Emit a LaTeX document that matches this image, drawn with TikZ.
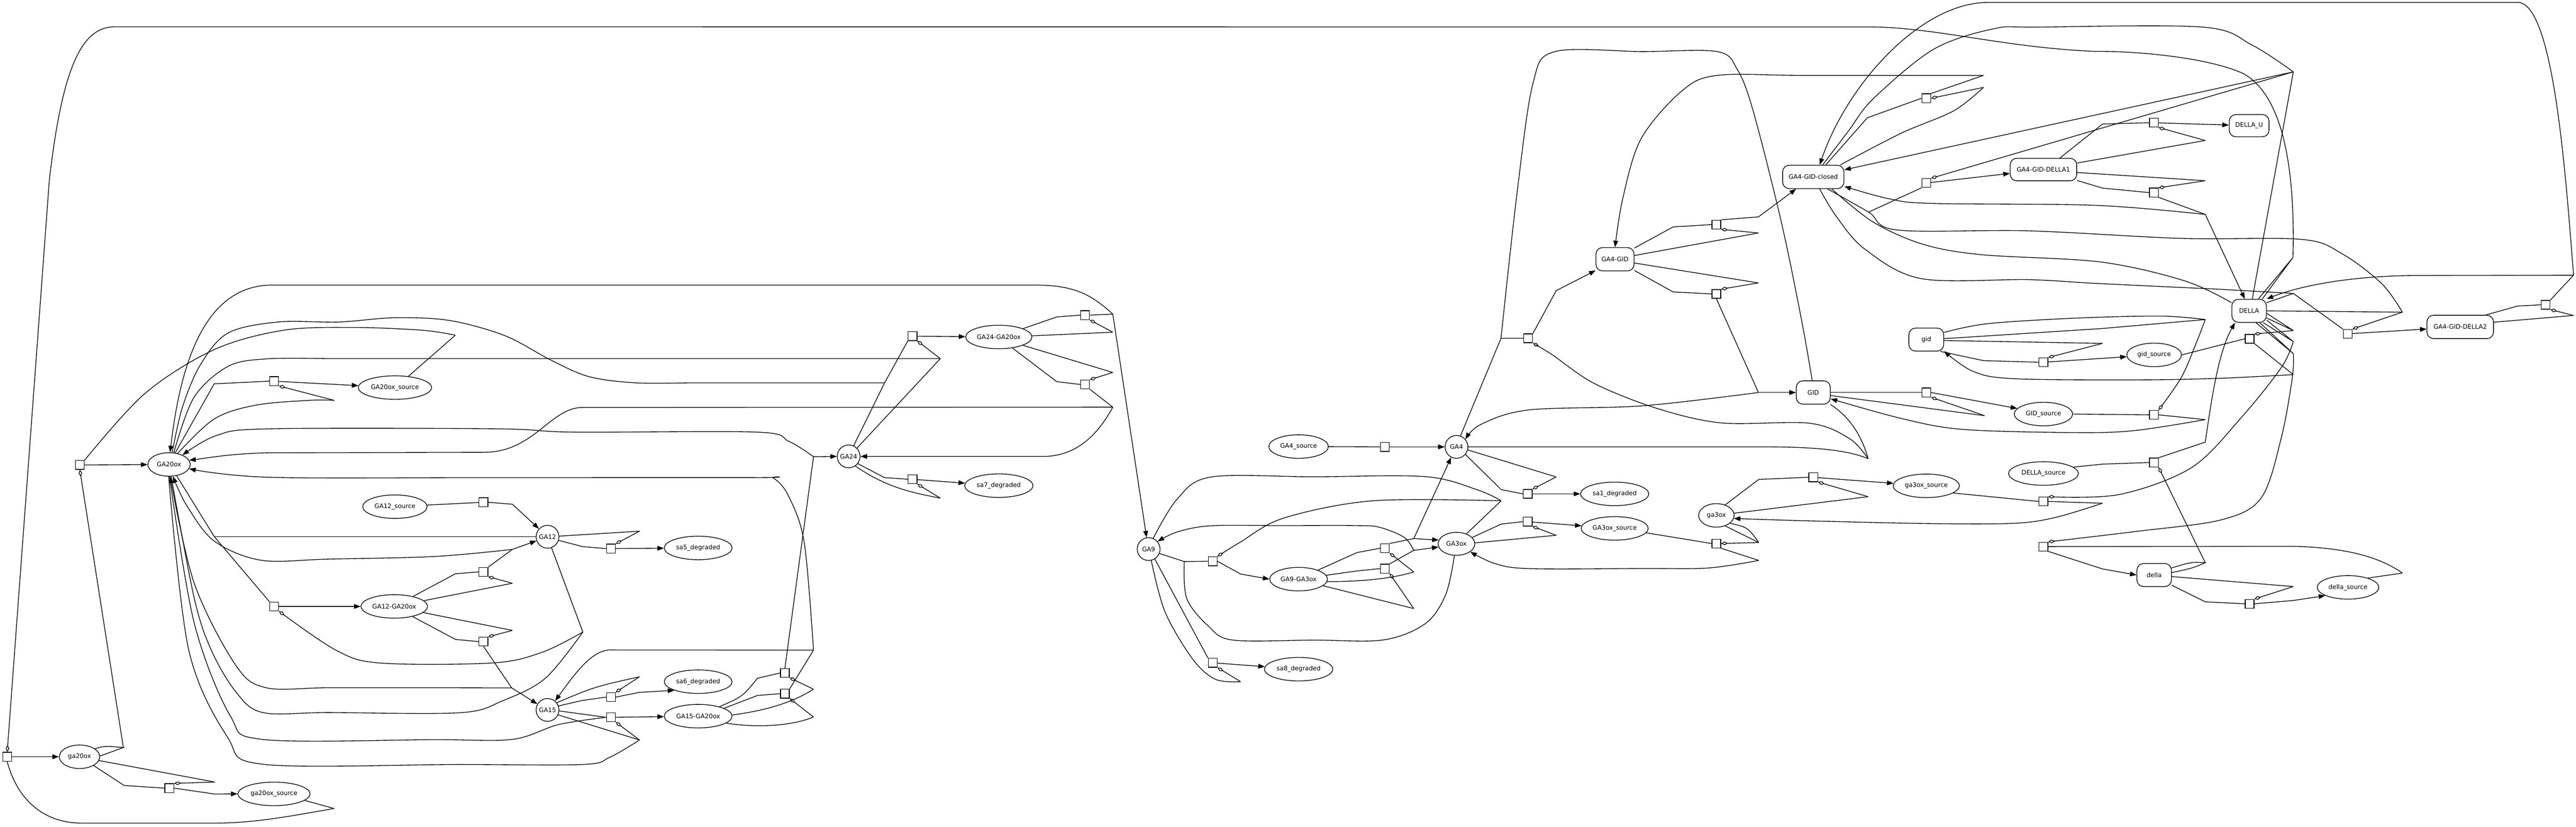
\documentclass[tikz,border=0pt]{standalone}
\usepackage{fontspec}
\setmainfont{DejaVu Sans}
\usetikzlibrary{shapes.geometric,arrows.meta,backgrounds}

\begin{document}
\begin{tikzpicture}[
    x=1mm, y=-1mm,
    font=\fontsize{10.8}{13}\selectfont,
    spe/.style={draw, ellipse, fill=white, line width=1.2pt, minimum height=14.3mm, inner sep=0pt},
    spc/.style={draw, circle, fill=white, line width=1.2pt, minimum size=13.9mm, inner sep=0pt},
    cpx/.style={draw, fill=white, rounded corners=4mm, line width=1.2pt, minimum height=14.2mm, inner sep=0pt},
    rxn/.style={draw, fill=white, line width=1.2pt, minimum size=5.4mm, inner sep=0pt},
    ln/.style={line width=1.2pt},
    ar/.style={ln, -{Triangle[length=4mm,width=2.9mm]}},
    dm/.style={ln, -{Diamond[open,length=4.2mm,width=2.2mm]}},
    sm/.style={smooth, tension=0.55}
    ]
    \useasboundingbox (0,0) rectangle (1568.1,503.1);

    % species
    \node[spe,minimum width=24.6mm] (ga20ox) at (48.4,460.6) {ga20ox};
    \node[spe,minimum width=25.8mm] (GA20ox) at (102.9,282.7) {GA20ox};
    \node[spe,minimum width=43.9mm] (ga20oxsrc) at (166.8,483.2) {ga20ox\_source};
    \node[spe,minimum width=44.6mm] (GA20oxsrc) at (240.4,235.9) {GA20ox\_source};
    \node[spe,minimum width=39.2mm] (GA12src) at (240.4,308.4) {GA12\_source};
    \node[spe,minimum width=40.5mm] (GA12GA20ox) at (240.0,369.1) {GA12-GA20ox};
    \node[spc] (GA12) at (333.3,326.7) {GA12};
    \node[spc] (GA15) at (333.3,432.1) {GA15};
    \node[spe,minimum width=41.3mm] (sa5) at (425.0,333.5) {sa5\_degraded};
    \node[spe,minimum width=41.3mm] (sa6) at (425.0,414.9) {sa6\_degraded};
    \node[spe,minimum width=41.3mm] (GA15GA20ox) at (425.0,435.9) {GA15-GA20ox};
    \node[spc] (GA24) at (516.6,277.8) {GA24};
    \node[spe,minimum width=40.3mm] (GA24GA20ox) at (608.0,205.1) {GA24-GA20ox};
    \node[spe,minimum width=41.6mm] (sa7) at (608.0,295.6) {sa7\_degraded};
    \node[spc] (GA9) at (699.2,334.2) {GA9};
    \node[spe,minimum width=36.2mm] (GA4src) at (790.5,271.8) {GA4\_source};
    \node[spe,minimum width=35.1mm] (GA9GA3ox) at (790.5,352.5) {GA9-GA3ox};
    \node[spe,minimum width=41.6mm] (sa8) at (790.5,407.3) {sa8\_degraded};
    \node[spc] (GA4) at (886.6,272.0) {GA4};
    \node[spe,minimum width=22.3mm,minimum height=14mm] (GA3ox) at (886.6,331.0) {GA3ox};
    \node[spe,minimum width=41.5mm] (sa1) at (982.9,300.6) {sa1\_degraded};
    \node[spe,minimum width=40.8mm] (GA3oxsrc) at (982.9,321.6) {GA3ox\_source};
    \node[cpx,minimum width=23.2mm] (GA4GID) at (983.1,157.8) {GA4-GID};
    \node[cpx,minimum width=20.7mm] (GID) at (1103.8,238.9) {GID};
    \node[cpx,minimum width=37.3mm] (closed) at (1103.8,107.7) {GA4-GID-closed};
    \node[spe,minimum width=21.6mm] (ga3ox) at (1044.8,313.7) {ga3ox};
    \node[spe,minimum width=40.3mm] (ga3oxsrc) at (1172.6,295.7) {ga3ox\_source};
    \node[cpx,minimum width=21.2mm,minimum height=14mm] (gid) at (1172.6,206.7) {gid};
    \node[cpx,minimum width=40.5mm,minimum height=13.7mm] (DELLA1) at (1243.9,103.2) {GA4-GID-DELLA1};
    \node[spe,minimum width=33.3mm] (gidsrc) at (1311.3,216.0) {gid\_source};
    \node[spe,minimum width=35.5mm] (GIDsrc) at (1243.9,252.0) {GID\_source};
    \node[spe,minimum width=42.5mm] (DELLAsrc) at (1243.9,288.2) {DELLA\_source};
    \node[cpx,minimum width=24.2mm,minimum height=13.5mm] (DELLAU) at (1369.1,76.5) {DELLA\_U};
    \node[cpx,minimum width=21mm,minimum height=14mm] (DELLA) at (1369.1,189.2) {DELLA};
    \node[cpx,minimum width=21mm,minimum height=14mm] (della) at (1311.3,350.0) {della};
    \node[spe,minimum width=37.5mm] (dellasrc) at (1429.3,357.5) {della\_source};
    \node[cpx,minimum width=40.5mm] (DELLA2) at (1497.6,199.0) {GA4-GID-DELLA2};

    % reactions
    \foreach \n/\x/\y in {r1/4.4/460.6, r2/48.6/283.0, r3/166.9/232.0, r4/103.1/479.7,
        r5/166.9/369.1, r6/294.3/305.7, r7/294.3/348.1, r8/294.3/390.5, r9/371.9/333.9,
        r10/371.9/424.3, r11/371.9/436.6, r12/477.8/409.6, r13/477.8/422.2,
        r14/555.5/204.6, r15/555.5/291.7, r16/660.5/191.8, r17/660.5/234.0,
        r18/738.2/341.6, r19/738.2/403.4, r20/843.0/272.0, r21/843.0/333.7,
        r22/843.0/346.1, r23/930.0/300.6, r24/930.0/317.5, r25/930.2/205.9,
        r26/1044.8/136.7, r27/1044.8/178.9, r28/1103.8/290.5, r29/1044.8/330.8,
        r30/1172.6/59.8, r31/1172.6/111.4, r32/1172.6/238.9, r33/1243.9/220.5,
        r34/1243.9/305.2, r35/1243.9/332.7, r36/1311.1/74.7, r37/1311.1/117.2,
        r38/1311.1/252.5, r39/1311.1/281.5, r40/1369.4/206.2, r41/1369.4/367.5,
        r42/1429.1/203.2, r43/1549.6/185.5}
        \node[rxn] (\n) at (\x,\y) {};

    \coordinate (tA) at (1395.8,156.7);
    \coordinate (t40a) at (1396,201.2);
    \coordinate (t40b) at (1396,207.9);
    \coordinate (t40c) at (1396,215.2);
    \coordinate (t40d) at (1396,228);

    \begin{scope}[on background layer]
    % ga20ox and GA20ox
    \draw[ar] (r1) -- (ga20ox);
    \draw[ln] (DELLA.52) -- (tA) -- (DELLA.42);
    \draw[dm] (tA) .. controls (1397,110) and (1392,60) .. (1366,45) .. controls (1345,35) and (1300,31) .. (1276,31.3) .. controls (1220,29) and (1180,17) .. (1140,16.4) -- (70,16.3) .. controls (50,16.3) and (38,40) .. (30,110) -- (r1.north);
    \coordinate (t1) at (203.4,492.1);
    \draw[ln] (ga20oxsrc.-12) -- (t1);
    \draw[ln] (t1) .. controls (175,497) and (155,501) .. (130,501) -- (50,501) .. controls (25,501) and (10,485) .. (r1.south);

    \draw[ar] (r2) -- (GA20ox);
    \coordinate (t2) at (75.1,455);
    \draw[ln] (ga20ox.28) .. controls (64,454) .. (t2) -- (ga20ox.2);
    \draw[dm] (t2) -- (r2.south);
    \coordinate (t3) at (277.2,204);
    \draw[ln] (GA20oxsrc.40) -- (t3);
    \draw[ln] plot[sm] coordinates {(t3) (257,201) (215,199.3) (172.6,201) (130.4,212.8) (88.2,239.5) (r2.north east)};

    \draw[ar] (r3) -- (GA20oxsrc);
    \draw[ln] (GA20ox.62) -- (130.4,233.6) -- (r3.west);
    \coordinate (t4) at (203.5,243.7);
    \draw[ln] plot[sm] coordinates {(GA20ox.52) (130.4,255) (155.7,246.6) (189.5,243.6) (t4)};
    \draw[dm] (t4) -- (r3.south east);

    \draw[ln] (ga20ox.-32) -- (75.6,478.1) -- (r4.west);
    \draw[ar] (r4.east) -- (130.8,483.3) -- (ga20oxsrc.west);
    \coordinate (t5) at (130.8,476);
    \draw[ln] (ga20ox.-11) -- (t5);
    \draw[dm] (t5) -- (r4.north east);

    % GA12
    \draw[ar] (r5) -- (GA12GA20ox);
    \coordinate (j5) at (130.5,326.7);
    \draw[ln] (GA20ox.-56) -- (j5) -- (r5.north west);
    \draw[ln] (GA12.west) -- (j5);
    \coordinate (t6) at (354.8,384.7);
    \draw[ln] (GA12.-70) -- (t6);
    \draw[dm] plot[sm] coordinates {(t6) (330,397) (300,403.5) (232,403.6) (205,396) (r5.south east)};
    \draw[ln] plot[sm] coordinates {(t6) (332,412.8) (306,426.5) (280,433.8) (200,433.7) (160,433.7) (143.5,421) (128.3,395) (118,363) (GA20ox.-80)};

    \draw[ln] (GA12src) -- (r6);
    \draw[ar] (r6.east) -- (311.9,306.9) -- (GA12.137);

    \draw[ln] (GA12GA20ox.28) -- (277.3,349.2) -- (r7.west);
    \coordinate (j7) at (311.9,334.4);
    \draw[ln] (r7.north east) -- (j7);
    \draw[ar] (j7) -- (GA12.200);
    \draw[ar] plot[sm] coordinates {(j7) (264.7,338.7) (200,340.3) (159,341) (130.4,329.3) (113.5,307.4) (GA20ox.-72)};
    \coordinate (t7) at (311.9,355);
    \draw[ln] (GA12GA20ox.11) -- (t7);
    \draw[dm] (t7) -- (r7.south east);

    \draw[ln] (GA12GA20ox.-29) -- (277.3,389.2) -- (r8.west);
    \coordinate (t8) at (311.9,383.7);
    \draw[ln] (GA12GA20ox.-12) -- (t8);
    \draw[dm] (t8) -- (r8.north east);
    \coordinate (j8) at (311.5,418.7);
    \draw[ln] (r8.south) -- (j8);
    \draw[ar] (j8) -- (GA15.150);
    \draw[ar] plot[sm] coordinates {(j8) (264.7,418.6) (200,418.6) (162.1,418.6) (143.5,404.9) (118.2,354.9) (GA20ox.-85)};

    \draw[ln] (GA12.-18) -- (354.6,332.7) -- (r9.west);
    \coordinate (t9) at (389.3,323.3);
    \draw[ln] (GA12.3) -- (t9);
    \draw[dm] (t9) -- (r9.north east);
    \draw[ar] (r9) -- (sa5);

    % GA15
    \draw[ln] (GA15.20) -- (354.6,426.3) -- (r10.west);
    \coordinate (t10) at (389.3,411.9);
    \draw[ln] (GA15.38) .. controls (362,418) .. (t10);
    \draw[dm] (t10) -- (r10.north east);
    \draw[ar] (r10.east) -- (389.3,421.4) -- (sa6.200);

    \draw[ln] (GA15.-5) -- (r11.west);
    \draw[ar] (r11) -- (GA15GA20ox);
    \draw[ln] plot[sm] coordinates {(GA20ox.-88) (118.2,379.1) (140.1,435.6) (160.4,450.1) (264.7,450.2) (312,450) (340,441) (r11.west)};
    \coordinate (t11) at (389.3,450.4);
    \draw[ln] (GA15.-25) -- (t11);
    \draw[dm] (t11) -- (r11.south east);
    \draw[ln] plot[sm] coordinates {(t11) (371.2,460.9) (354.8,465.3) (279.3,465.3) (160.4,465.2) (138.4,448.5) (114.8,395.2) (GA20ox.-92)};

    \draw[ln] (GA15GA20ox.24) .. controls (452,424) .. (461.1,412.8) -- (r12.west);
    \coordinate (t12) at (495.2,419.5);
    \draw[ln] (GA15GA20ox.2) .. controls (470,432) and (485,426) .. (t12);
    \draw[dm] (t12) -- (r12.south east);
    \coordinate (j12) at (495.2,278);
    \draw[ln] (r12.north) -- (j12);
    \draw[ar] (j12) -- (GA24.west);
    \draw[ar] plot[sm] coordinates {(j12) (480.2,268.6) (460.5,263) (349,263) (302,261) (164,261) (132,265) (GA20ox.35)};

    \draw[ln] (GA15GA20ox.17) -- (461.1,423.3) -- (r13.west);
    \coordinate (t13) at (495.2,436.4);
    \draw[ln] (GA15GA20ox.-14) .. controls (460,443) and (482,442) .. (t13);
    \draw[dm] (t13) -- (r13.south east);
    \coordinate (j13) at (495.2,395.7);
    \draw[ln] (r13.north east) -- (j13);
    \draw[ar] (j13) -- (371.2,395.6) .. controls (360,396) and (350,410) .. (GA15.50);
    \draw[ar] plot[sm] coordinates {(j13) (489.6,330.5) (480.2,302.3) (470.9,291.1) (460.5,290.7) (300,290.7) (164,290.5) (GA20ox.-12)};

    % GA24
    \draw[ar] (r14) -- (GA24GA20ox);
    \coordinate (j14) at (538.5,233);
    \draw[ln] (GA24.65) -- (j14) -- (r14.south west);
    \draw[ln] plot[sm] coordinates {(GA20ox.75) (111,248) (122,222) (138.8,202.7) (169.2,196) (206.4,196) (240.1,193.4) (273.9,195.1) (307.6,204.4) (335,219) (358.4,229.2) (386.5,233) (420,233)} -- (j14);
    \coordinate (t14) at (572.4,218.3);
    \draw[ln] plot[sm] coordinates {(GA20ox.68) (118,242) (138.8,223) (162.5,218.4) (200,218.3)} -- (t14);
    \draw[ln] (GA24.45) -- (t14);
    \draw[dm] (t14) -- (r14.south east);

    \draw[ln] (GA24.-38) -- (538.4,290.7) -- (r15.west);
    \coordinate (t15) at (572.4,303.2);
    \draw[ln] (GA24.-55) .. controls (540,297) and (556,300) .. (t15);
    \draw[dm] (t15) -- (r15.south east);
    \draw[ar] (r15) -- (sa7);

    \draw[ln] (GA24GA20ox.19) -- (643.3,192.9) -- (r16.west);
    \coordinate (t16) at (677.4,202.2);
    \draw[ln] (GA24GA20ox.2) -- (t16);
    \draw[dm] (t16) -- (r16.south east);
    \coordinate (j16) at (677.4,191.2);
    \draw[ln] (r16.east) -- (j16);
    \draw[ar] (j16) -- (GA9.100);
    \draw[ar] (j16) .. controls (665,180) and (655,173.5) .. (630,173.5) -- (165.8,173.5) .. controls (125,173.5) and (110,220) .. (GA20ox.85);

    \draw[ln] (GA24GA20ox.-39) -- (643.3,232.3) -- (r17.west);
    \coordinate (t17) at (677.4,226.7);
    \draw[ln] (GA24GA20ox.-19) -- (t17);
    \draw[dm] (t17) -- (r17.north east);
    \coordinate (j17) at (677.4,247.8);
    \draw[ln] (r17.south east) -- (j17);
    \draw[ar] (j17) .. controls (668,265) and (655,277.8) .. (635,277.8) -- (GA24.east);
    \draw[ar] (j17) -- (354.6,248) .. controls (335,248) and (325,275.3) .. (294.6,275.3) -- (164,275.6) .. controls (140,276) and (125,279) .. (GA20ox.12);

    % GA9 and GA3ox
    \coordinate (j18) at (720.9,341.8);
    \draw[ln] (GA9.-22) -- (j18) -- (r18.west);
    \draw[ln] plot[sm] coordinates {(GA3ox.-100) (880,362) (867.6,379.6) (842.1,389.5) (800,389.6) (750.6,389.6) (735.6,381.1) (722.4,364.3) (j18)};
    \draw[ar] (r18.east) -- (755.2,349.4) -- (GA9GA3ox.west);
    \coordinate (t18) at (913.8,304.8);
    \draw[ln] plot[sm] coordinates {(GA9.67) (716.8,303.5) (737.4,290.3) (800,290.2) (867.6,290.1) (899.5,298.2) (t18)};
    \draw[ln] (GA3ox.45) -- (t18);
    \draw[dm] plot[sm] coordinates {(t18) (835.7,304.8) (781.5,315.3) (755,330) (r18.north east)};

    \draw[ln] (GA9.-58) -- (r19.north west);
    \coordinate (t19) at (755.2,414.9);
    \draw[ln] plot[sm] coordinates {(GA9.-77) (709.3,372.7) (726.2,401.4) (740,413.5) (t19)};
    \draw[dm] (t19) -- (r19.south east);
    \draw[ar] (r19) -- (sa8);

    \draw[ln] (GA4src) -- (r20);
    \draw[ar] (r20) -- (GA4);

    \draw[ln] (GA9GA3ox.25) -- (826.1,336.3) -- (r21.west);
    \coordinate (t21) at (860.6,348.1);
    \draw[ln] (GA9GA3ox.-5) .. controls (830,354) and (848,352) .. (t21);
    \draw[dm] (t21) -- (r21.south east);
    \coordinate (j21) at (860.6,327.8);
    \draw[ln] (r21.north east) -- (j21);
    \draw[ar] (j21) -- (GA3ox.168);
    \draw[ar] (j21) -- (GA4.-117);

    \draw[ln] (GA9GA3ox.8) -- (826.1,347.5) -- (r22.west);
    \coordinate (t22) at (860.6,370.4);
    \draw[ln] (GA9GA3ox.-15) -- (t22);
    \draw[dm] (t22) -- (r22.south east);
    \coordinate (j22) at (860.6,335);
    \draw[ln] (r22.north east) -- (j22);
    \draw[ar] (j22) -- (GA3ox.190);
    \draw[ar] plot[sm] coordinates {(j22) (854.8,327.1) (840,321) (826.1,319.9) (780,319.9) (737.4,320) (716.8,323.7) (GA9.40)};

    \draw[ln] (GA4.-40) -- (913.8,298) -- (r23.west);
    \coordinate (t23) at (947.3,290.3);
    \draw[ln] (GA4.-15) -- (t23);
    \draw[dm] (t23) -- (r23.north east);
    \draw[ar] (r23) -- (sa1);

    \draw[ln] (GA3ox.22) -- (913.8,319) -- (r24.west);
    \coordinate (t24) at (947.3,325.8);
    \draw[ln] (GA3ox.3) -- (t24);
    \draw[dm] (t24) -- (r24.south east);
    \draw[ar] (r24) -- (GA3oxsrc);

    % GA4 and GID
    \coordinate (j25) at (913.7,205.9);
    \draw[ln] (GA4.70) -- (j25) -- (r25.west);
    \draw[ln] plot[sm] coordinates {(GID.95) (1096.5,194) (1084.3,135) (1067.2,67.5) (1057.5,42.2) (1045.3,31.4) (1000,31.4) (946.6,31.4) (933.2,50.6) (923.4,118) (j25)};
    \draw[ar] (r25.north east) -- (947.3,176.9) -- (GA4GID.-150);
    \coordinate (t25) at (1137.2,279.2);
    \draw[ln] (GA4.east) -- (1074.8,272) .. controls (1105,272) and (1125,274) .. (t25);
    \draw[dm] plot[sm] coordinates {(t25) (1125.9,267) (1101.5,257.6) (1047.7,257.4) (1007.8,248.3) (970.3,233.3) (945,216) (r25.south east)};
    \draw[ln] (GID.-35) .. controls (1128,255) and (1134,268) .. (t25);

    \draw[ln] (GA4GID.30) -- (1018.5,138.1) -- (r26.west);
    \coordinate (t26) at (1070.4,141.8);
    \draw[ln] (GA4GID.11) -- (t26);
    \draw[dm] (t26) -- (r26.south east);
    \draw[ar] (r26.north east) -- (1070.4,132) -- (closed.-145);

    \draw[ln] (GA4GID.-30) -- (1018.5,177.7) -- (r27.west);
    \coordinate (t27) at (1070.4,172.2);
    \draw[ln] (GA4GID.-11) -- (t27);
    \draw[dm] (t27) -- (r27.north east);
    \coordinate (j27) at (1070.4,238.9);
    \draw[ln] (r27.south) -- (j27);
    \draw[ar] (j27) -- (GID.west);
    \draw[ar] plot[sm] coordinates {(j27) (1000,247) (930.7,249.5) (901.5,258.3) (GA4.40)};

    \draw[ln] (ga3ox.50) -- (1070.6,291.8) -- (r28.west);
    \coordinate (t28) at (1137.2,302.3);
    \draw[ln] (ga3ox.7) -- (t28);
    \draw[dm] (t28) -- (r28.south east);
    \draw[ar] (r28) -- (ga3oxsrc);

    \draw[ln] (GA3oxsrc.-8) -- (r29.west);
    \coordinate (t29) at (1070.6,330.2);
    \draw[ln] (ga3ox.-50) -- (t29);
    \draw[ln] (ga3ox.-30) .. controls (1064,321) .. (t29);
    \draw[dm] (t29) -- (r29.east);
    \coordinate (t29b) at (1070.6,341.1);
    \draw[ln] (r29.south east) -- (t29b);
    \draw[ar] plot[sm] coordinates {(t29b) (1040,345.7) (1000,346) (931.3,346.1) (910,343) (GA3ox.-30)};

    % GA4-GID-closed and DELLA
    \draw[ln] (closed.44) -- (1136.7,71.7) -- (r30.west);
    \coordinate (t30a) at (1207.4,45.9);
    \coordinate (t30b) at (1207.4,53.2);
    \draw[ln] (r30.north east) -- (t30a);
    \draw[dm] (t30b) -- (r30.east);
    \draw[ar] plot[sm] coordinates {(t30a) (1100,45.9) (1045.3,45.9) (1023.4,55.7) (999,84.4) (988,120) (GA4GID.north)};
    \draw[ln] plot[sm] coordinates {(closed.24) (1157.5,81) (1189.2,67.5) (t30b)};

    \coordinate (j31) at (1137.5,129.1);
    \draw[ln] (j31) -- (r31.south west);
    \draw[ar] (r31) -- (DELLA1);
    \coordinate (t31) at (1396,43.75);
    \draw[dm] (t31) -- (r31.north east);
    \draw[ar] (t31) -- (closed.13);
    \draw[ln] (DELLA.75) -- (t31);
    \draw[ln] plot[sm] coordinates {(closed.52) (1125,80) (1140.4,60) (1177,30) (1213.6,17.5) (1240,16.5) (1341,16.5) (1371,27.5) (t31)};

    \draw[ln] (GID.east) -- (r32.west);
    \coordinate (t32) at (1208.1,253);
    \draw[ln] (GID.-10) -- (t32);
    \draw[dm] (t32) -- (r32.south east);
    \draw[ar] (r32.east) -- (GIDsrc.168);

    \draw[ln] (gid.-40) -- (1207.4,219.5) -- (r33.west);
    \coordinate (t33) at (1279.9,209);
    \draw[ln] (gid.-3) -- (t33);
    \draw[dm] (t33) -- (r33.north east);
    \draw[ar] (r33) -- (gidsrc);

    \draw[ln] (ga3oxsrc.-15) -- (r34.west);
    \coordinate (t34) at (1279.9,306.3);
    \draw[ln] (r34.east) -- (t34);
    \draw[ar] plot[sm] coordinates {(t34) (1251,315) (1226,318.5) (1176,318.7) (1100,317) (ga3ox.-10)};
    \draw[dm] plot[sm] coordinates {(t40b) (1388.7,223.7) (1364.3,254.2) (1333.9,284.7) (1290,301) (r34.north east)};

    \draw[ar] (r35.south east) -- (1279.9,346.3) -- (della.west);
    \coordinate (t35) at (1462.4,348.8);
    \draw[ln] (r35.east) -- (1393.6,332.5) .. controls (1430,333) and (1450,340) .. (t35);
    \draw[ln] (dellasrc.25) -- (t35);
    \draw[dm] plot[sm] coordinates {(t40c) (1395.4,229.8) (1388.7,266.4) (1376.5,303) (1352.1,316.4) (1300,323.5) (r35.north east)};

    \draw[ln] (DELLA1.35) -- (1279.9,75.5) -- (r36.west);
    \coordinate (t36) at (1342.4,85.5);
    \draw[ln] (DELLA1.11) -- (t36);
    \draw[dm] (t36) -- (r36.south east);
    \draw[ar] (r36) -- (DELLAU);

    \draw[ln] (DELLA1.-18) -- (1279.9,114.5) -- (r37.west);
    \coordinate (t37) at (1342.4,110);
    \draw[ln] (DELLA1.-5) -- (t37);
    \draw[dm] (t37) -- (r37.north east);
    \coordinate (j37) at (1342.4,130.5);
    \draw[ln] (r37.south east) -- (j37);
    \draw[ar] (j37) -- (DELLA.110);
    \draw[ar] plot[sm] coordinates {(j37) (1276,125) (1176,123.8) (1150,121) (closed.-17)};

    \draw[ln] (GIDsrc.east) -- (r38.west);
    \coordinate (t38a) at (1342.4,194.5);
    \draw[ln] plot[sm] coordinates {(gid.22) (1210,197) (1264.3,193.6) (1315.6,192.4) (t38a)};
    \draw[ln] (gid.3) -- (1279,200) -- (t38a);
    \draw[dm] plot[sm] coordinates {(t38a) (1336.3,210.3) (1327.8,229.8) (r38.north east)};
    \coordinate (t38b) at (1342.4,255.4);
    \draw[ln] (r38.east) -- (t38b);
    \draw[ar] plot[sm] coordinates {(t38b) (1300,262) (1264.3,263.3) (1195.3,261.4) (1157.8,254.8) (GID.-20)};

    \draw[ln] (DELLAsrc.12) -- (1279.9,282.5) -- (r39.west);
    \draw[ar] (r39.north east) -- (1342.4,269.1) .. controls (1346,245) and (1350,215) .. (DELLA.-140);
    \coordinate (t39) at (1342.4,342.5);
    \draw[ln] (della.22) .. controls (1334,342) .. (t39) .. controls (1334,346) .. (della.8);
    \draw[dm] (t39) -- (r39.south east);

    \draw[ln] (gidsrc.east) -- (r40.west);
    \draw[dm] (t40a) -- (r40.north east);
    \draw[ln] (DELLA.-8) -- (t40a) -- (DELLA.-22);
    \draw[ln] (DELLA.-28) -- (t40b) -- (DELLA.-40);
    \draw[ln] (DELLA.-48) -- (t40c) -- (DELLA.-60);
    \draw[ln] (r40.south east) -- (t40d);
    \draw[ar] plot[sm] coordinates {(t40d) (1350,230.3) (1301,231.2) (1226,230.5) (1201,226) (gid.-33)};

    \draw[ln] (della.-30) -- (1342.4,366.3) -- (r41.west);
    \coordinate (t41) at (1396,357);
    \draw[ln] (della.-5) -- (t41);
    \draw[dm] (t41) -- (r41.north east);
    \draw[ar] (r41.east) -- (1396,365.5) -- (dellasrc.200);

    \coordinate (j42) at (1396,178.6);
    \draw[ln] (DELLA.25) -- (j42) -- (r42.north west);
    \draw[ln] plot[sm] coordinates {(closed.-62) (1118,132) (1135.5,151.9) (1169.6,169.6) (1235,170.2) (1276,172.5) (1350,176)} -- (j42);
    \draw[ar] (r42) -- (DELLA2);
    \coordinate (t42) at (1462.4,190);
    \draw[ln] (DELLA.east) -- (t42);
    \draw[ln] plot[sm] coordinates {(closed.-40) (j31) (1155,140) (1235,140.5) (1327.8,145.1) (1400.9,145.7) (1425.3,154.2) (1449.7,172.5) (t42)};
    \draw[dm] (t42) -- (r42.north east);
    \draw[ln] plot[sm] coordinates {(closed.-33) (1140,135) (1170,148.5) (1206,155) (1279,159.5) (1330,171) (DELLA.155)};

    \draw[ln] (DELLA2.25) -- (1532.4,186.3) -- (r43.west);
    \coordinate (t43) at (1566.6,192);
    \draw[ln] (DELLA2.8) -- (t43);
    \draw[dm] (t43) -- (r43.south east);
    \coordinate (j43) at (1566.6,167.5);
    \draw[ln] (r43.north east) -- (j43);
    \draw[ar] (j43) -- (1470,167.7) .. controls (1430,168) and (1400,174) .. (DELLA.34);
    \draw[ar] (j43) .. controls (1562,110) and (1555,5) .. (1533.6,1.5) -- (1210,1.5) .. controls (1170,1.5) and (1125,50) .. (closed.62);
    \end{scope}

\end{tikzpicture}
\end{document}
